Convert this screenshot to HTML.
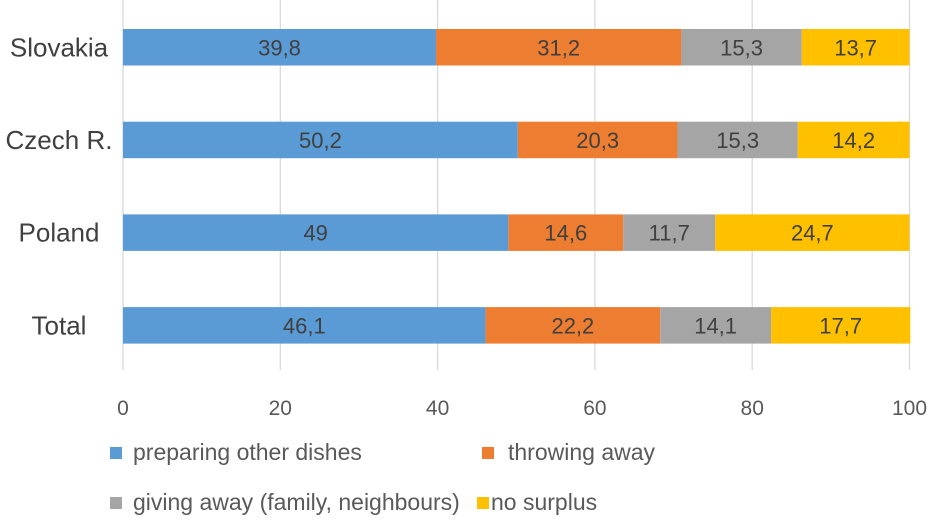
<!DOCTYPE html>
<html><head><meta charset="utf-8"><style>
body{margin:0;background:#fff;}
svg{display:block;font-family:"Liberation Sans",sans-serif;}
</style></head><body>
<svg id="chart" width="929" height="520"></svg>
<script>
const categories=["Slovakia","Czech R.","Poland","Total"];
const seriesNames=["preparing other dishes","throwing away","giving away (family, neighbours)","no surplus"];
const preparing=[39.8,50.2,49,46.1];
const throwing=[31.2,20.3,14.6,22.2];
const giving=[15.3,15.3,11.7,14.1];
const noSurplus=[13.7,14.2,24.7,17.7];
const ticks=[0,20,40,60,80,100];
const colors=["#5b9bd5","#ed7d31","#a5a5a5","#ffc000"];
const ns="http://www.w3.org/2000/svg";
const svg=document.getElementById("chart");
const x=v=>123+v*7.865;
const yTop=i=>29+i*92.7;
const bh=36.5;
function mk(t,a,p){const e=document.createElementNS(ns,t);for(const k in a)e.setAttribute(k,a[k]);(p||svg).appendChild(e);return e;}
ticks.forEach(t=>{
  const g=mk("line",{x1:x(t),x2:x(t),y1:0,y2:370,stroke:"#d9d9d9","stroke-width":1.3});
  
  
  const l=mk("text",{x:x(t),y:415,"text-anchor":"middle","font-size":21,fill:"#595959"});
  l.textContent=t;
  
  
});
const all=[preparing,throwing,giving,noSurplus];
categories.forEach((c,i)=>{
  const l=mk("text",{x:59,y:yTop(i)+bh/2+9,"text-anchor":"middle","font-size":26,fill:"#404040"});
  l.textContent=c;
  
  
  let acc=0;
  all.forEach((s,j)=>{
    const v=s[i];
    const r=mk("rect",{x:x(acc),y:yTop(i),width:x(acc+v)-x(acc),height:bh,fill:colors[j]});
    
    
    const t=mk("text",{x:(x(acc)+x(acc+v))/2,y:yTop(i)+bh/2+8,"text-anchor":"middle","font-size":22,fill:"#404040"});
    t.textContent=String(v).replace(".",",");
    
    
    acc+=v;
  });
});
const legSw=[[110,460],[482,460],[110,510],[477,510]];
const legTx=[133,508,133,491];
seriesNames.forEach((n,j)=>{
  const [lx,ly]=legSw[j];
  const r=mk("rect",{x:lx,y:ly-13,width:12,height:12,fill:colors[j]});
  
  
  const t=mk("text",{x:legTx[j],y:ly,"font-size":23,fill:"#595959"});
  t.textContent=n;
  
  
});
</script>
</body></html>
